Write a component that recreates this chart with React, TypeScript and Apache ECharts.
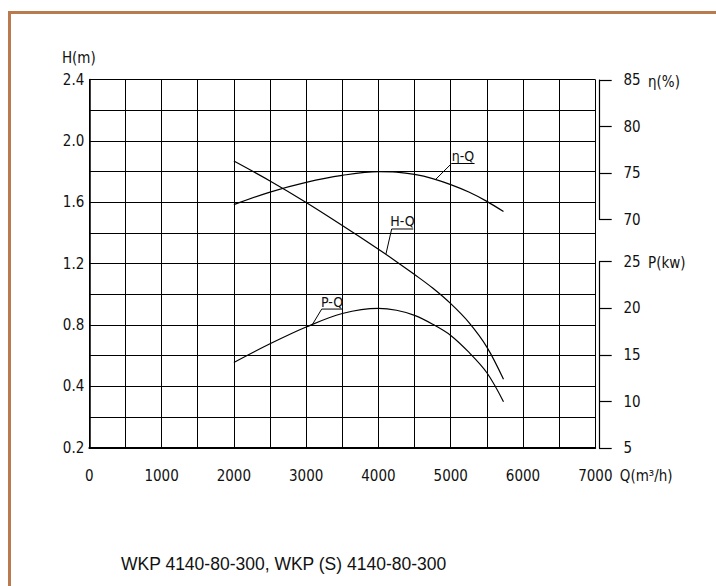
import React, { useEffect, useRef } from 'react';
import * as echarts from 'echarts';

// ---- data ----
const Q_VALUES = [2000, 2500, 3000, 3500, 4000, 4250, 4500, 4750, 5000, 5250, 5500, 5730];
const H_VALUES = [1.868, 1.738, 1.598, 1.448, 1.293, 1.212, 1.128, 1.04, 0.938, 0.816, 0.655, 0.445];
const ETA_VALUES = [71.6, 72.95, 74.0, 74.75, 75.15, 75.1, 74.85, 74.4, 73.75, 72.95, 71.95, 70.85];
const P_VALUES = [14.2, 16.2, 18.0, 19.45, 20.0, 19.8, 19.25, 18.3, 17.1, 15.3, 13.1, 10.0];

// tick labels
const Q_TICK_LABELS = ['0', '1000', '2000', '3000', '4000', '5000', '6000', '7000'];
const H_TICK_VALUES = [0, 0.4, 0.8, 1.2, 1.6, 2.0, 2.4];
const H_TICK_LABELS = ['0.2', '0.4', '0.8', '1.2', '1.6', '2.0', '2.4'];
const ETA_TICKS = [70, 75, 80, 85];
const P_TICKS = [5, 10, 15, 20, 25];

// axis names
const Q_NAME = 'Q(m³/h)';
const H_NAME = 'H(m)';
const ETA_NAME = 'η(%)';
const P_NAME = 'P(kw)';

// curve label anchors [Q, value]
const ETA_LABEL_ANCHOR = [4790, 74.3];
const H_LABEL_ANCHOR = [4104, 1.262];
const P_LABEL_ANCHOR = [3085, 18.25];

const TITLE = 'WKP 4140-80-300, WKP (S) 4140-80-300';

const NARROW = "'Liberation Sans Narrow', 'DejaVu Sans Condensed', 'Liberation Sans', sans-serif";
const INK = '#111';
const FS = 15;

export default function App() {
  const ref = useRef<HTMLDivElement>(null);

  useEffect(() => {
    const chart = echarts.init(ref.current!, null, { renderer: 'svg' });

    const MAIN = { left: 89.3, top: 79.5, width: 506, height: 368 };
    const AXIS_X = 609;
    const ETA_G = { top: 80, height: 139.5 };
    const P_G = { top: 261.7, height: 186.6 };
    const mainBottom = MAIN.top + MAIN.height;

    const etaMin = ETA_TICKS[0], etaMax = ETA_TICKS[ETA_TICKS.length - 1];
    const etaPx = ETA_G.height / (etaMax - etaMin);
    const etaHidMax = etaMax + (ETA_G.top - MAIN.top) / etaPx;
    const etaHidMin = etaMax - (mainBottom - ETA_G.top) / etaPx;

    const pMin = P_TICKS[0], pMax = P_TICKS[P_TICKS.length - 1];
    const pPx = P_G.height / (pMax - pMin);
    const pHidMin = pMin - (mainBottom - (P_G.top + P_G.height)) / pPx;
    const pHidMax = pMin + (P_G.top + P_G.height - MAIN.top) / pPx;

    const labelStyle = { fontFamily: NARROW, fontSize: FS, color: INK };
    const gridLine = { show: true, lineStyle: { color: '#000', width: 1 } };

    const option: any = {
      animation: false,
      backgroundColor: '#fff',
      title: {
        text: TITLE,
        left: 121,
        top: 555,
        padding: 0,
        textStyle: { fontFamily: "'Liberation Sans', Arial, sans-serif", fontSize: 17.5, fontWeight: 'normal', color: INK },
      },
      grid: [
        { left: MAIN.left, top: MAIN.top, width: MAIN.width, height: MAIN.height },
        { left: AXIS_X - 10, top: ETA_G.top, width: 10, height: ETA_G.height },
        { left: AXIS_X - 10, top: P_G.top, width: 10, height: P_G.height },
      ],
      xAxis: [
        {
          type: 'value', gridIndex: 0, min: 0, max: 7000, interval: 500,
          axisLine: { show: true, onZero: false, lineStyle: { color: '#000', width: 1.8 } },
          axisTick: { show: false },
          splitLine: gridLine,
          axisLabel: {
            ...labelStyle, margin: 21,
            formatter: (v: number) => (Q_TICK_LABELS.includes(String(v)) ? String(v) : ''),
          },
        },
        { type: 'value', gridIndex: 1, show: false, min: 0, max: 1 },
        { type: 'value', gridIndex: 2, show: false, min: 0, max: 1 },
      ],
      yAxis: [
        {
          type: 'value', gridIndex: 0, position: 'left', min: 0, max: 2.4, interval: 0.2,
          axisLine: { show: true, onZero: false, lineStyle: { color: '#000', width: 1.5 } },
          axisTick: { show: false },
          splitLine: gridLine,
          axisLabel: {
            ...labelStyle, margin: 5,
            formatter: (v: number) => {
              const i = H_TICK_VALUES.findIndex((t) => Math.abs(t - v) < 1e-6);
              return i >= 0 ? H_TICK_LABELS[i] : '';
            },
          },
        },
        { type: 'value', gridIndex: 0, show: false, min: etaHidMin, max: etaHidMax },
        { type: 'value', gridIndex: 0, show: false, min: pHidMin, max: pHidMax },
        {
          type: 'value', gridIndex: 1, position: 'right', min: etaMin, max: etaMax, interval: 5,
          axisLine: { show: true, lineStyle: { color: '#000', width: 1.2 } },
          axisTick: { show: true, length: 12.7, lineStyle: { color: '#000', width: 1.2 } },
          splitLine: { show: false },
          axisLabel: { ...labelStyle, margin: 14.5 },
        },
        {
          type: 'value', gridIndex: 2, position: 'right', min: pMin, max: pMax, interval: 5,
          axisLine: { show: true, lineStyle: { color: '#000', width: 1.2 } },
          axisTick: { show: true, length: 12.7, lineStyle: { color: '#000', width: 1.2 } },
          splitLine: { show: false },
          axisLabel: { ...labelStyle, margin: 14.5 },
        },
      ],
      series: [
        {
          name: 'H-Q', type: 'line', xAxisIndex: 0, yAxisIndex: 0, smooth: 0.35, symbol: 'none',
          lineStyle: { color: '#000', width: 1.2 },
          data: Q_VALUES.map((q, i) => [q, H_VALUES[i]]),
        },
        {
          name: 'η-Q', type: 'line', xAxisIndex: 0, yAxisIndex: 1, smooth: 0.35, symbol: 'none',
          lineStyle: { color: '#000', width: 1.2 },
          data: Q_VALUES.map((q, i) => [q, ETA_VALUES[i]]),
        },
        {
          name: 'P-Q', type: 'line', xAxisIndex: 0, yAxisIndex: 2, smooth: 0.35, symbol: 'none',
          lineStyle: { color: '#000', width: 1.2 },
          data: Q_VALUES.map((q, i) => [q, P_VALUES[i]]),
        },
      ],
    };

    chart.setOption(option);

    const labelDefs = [
      { text: 'η-Q', yAxisIndex: 1, anchor: ETA_LABEL_ANCHOR, dx: 16, dy: -16, len: 23 },
      { text: 'H-Q', yAxisIndex: 0, anchor: H_LABEL_ANCHOR, dx: 5.7, dy: -25, len: 21.6 },
      { text: 'P-Q', yAxisIndex: 2, anchor: P_LABEL_ANCHOR, dx: 9.4, dy: -15.6, len: 20.6 },
    ];

    const nameStyle = { fontFamily: NARROW, fontSize: FS, fill: INK, textVerticalAlign: 'middle' };

    const graphics: any[] = [
      // page frame
      { type: 'line', shape: { x1: 8, y1: 12.5, x2: 716, y2: 12.5 }, style: { stroke: '#b97a4e', lineWidth: 3 }, silent: true },
      { type: 'line', shape: { x1: 9.5, y1: 11, x2: 9.5, y2: 586 }, style: { stroke: '#b97a4e', lineWidth: 3 }, silent: true },
      // axis names
      { type: 'text', silent: true, x: MAIN.left - 10.5, y: MAIN.top - 21.5, style: { ...nameStyle, text: H_NAME, textAlign: 'center' } },
      { type: 'text', silent: true, x: AXIS_X + 39, y: ETA_G.top + 2.3, style: { ...nameStyle, text: ETA_NAME, textAlign: 'left' } },
      { type: 'text', silent: true, x: AXIS_X + 39, y: P_G.top + 1.6, style: { ...nameStyle, text: P_NAME, textAlign: 'left' } },
      { type: 'text', silent: true, x: MAIN.left + MAIN.width + 24.5, y: mainBottom + 28.5, style: { ...nameStyle, text: Q_NAME, textAlign: 'left' } },
    ];

    labelDefs.forEach((d) => {
      const p = chart.convertToPixel({ xAxisIndex: 0, yAxisIndex: d.yAxisIndex } as any, d.anchor) as number[];
      if (!p) return;
      const sx = p[0] + d.dx, sy = p[1] + d.dy;
      graphics.push({
        type: 'polyline', silent: true,
        shape: { points: [[p[0], p[1]], [sx, sy], [sx + d.len, sy]] },
        style: { stroke: '#000', lineWidth: 1, fill: 'none' },
      });
      graphics.push({
        type: 'text', silent: true,
        x: sx + d.len / 2, y: sy - 0.5,
        style: { text: d.text, fontFamily: NARROW, fontSize: 14, fill: INK, textAlign: 'center', textVerticalAlign: 'bottom' },
      });
    });

    chart.setOption({ graphic: graphics });

    return () => chart.dispose();
  }, []);

  return (
    <div
      ref={ref}
      style={{ position: 'fixed', left: 0, top: 0, width: 716, height: 586, background: '#fff' }}
    />
  );
}
